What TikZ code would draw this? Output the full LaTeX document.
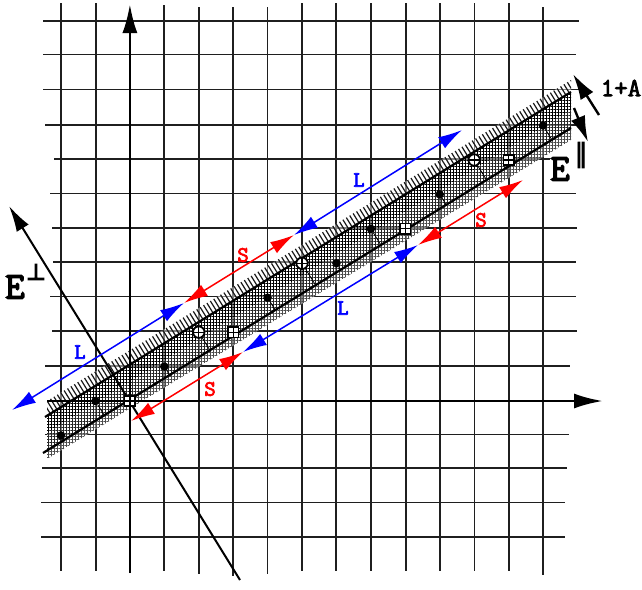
\documentclass[tikz,border=0pt]{standalone}
\usepackage{fontspec}
\newfontfamily\courlab[FakeBold=3.2]{Latin Modern Mono}
\newfontfamily\courbig[FakeBold=3.5]{Latin Modern Mono}
\newfontfamily\dejaheavy[FakeBold=6]{DejaVu Sans}
\newfontfamily\dejapar[FakeBold=3.5]{DejaVu Sans}
\usetikzlibrary{arrows.meta,patterns,patterns.meta,calc}
\tikzset{
  gridline/.style={line width=1.5pt, black!88},
  axisline/.style={line width=2.8pt, -{Latex[length=29pt,width=15pt]}},
  perpaxis/.style={line width=2pt, -{Latex[length=26pt,width=14pt]}},
  bandline/.style={line width=2.2pt},
  combline/.style={line width=1.2pt, black!90},
  projline/.style={line width=0.8pt},
  dotm/.style={circle, fill=black, inner sep=0pt, minimum size=8.5pt},
  crossin/.style={path picture={\draw[line width=1.2pt]
     (path picture bounding box.north) -- (path picture bounding box.south)
     (path picture bounding box.west) -- (path picture bounding box.east);}},
  circm/.style={circle, draw=black, fill=white, crossin, line width=1.8pt, inner sep=0pt, minimum size=11.5pt},
  sqm/.style={rectangle, draw=black, fill=white, crossin, line width=1.6pt, inner sep=0pt, minimum size=10.5pt},
  dimarrow/.style={line width=1.5pt, {Latex[length=24pt,width=13pt]}-{Latex[length=24pt,width=13pt]}},
  widtharrow/.style={line width=2.4pt, -{Latex[length=26pt,width=15pt]}},
  lab/.style={inner sep=0pt, font=\courlab\fontsize{22}{22}\selectfont},
  bigE/.style={inner sep=0pt, font=\courbig\fontsize{38}{38}\selectfont},
  supsym/.style={inner sep=0pt, font=\dejaheavy\fontsize{22}{22}\selectfont},
  supsympar/.style={inner sep=0pt, font=\dejapar\fontsize{26}{26}\selectfont},
  small/.style={inner sep=0pt, font=\courlab\fontsize{26}{26}\selectfont},
}
\begin{document}
\begin{tikzpicture}[x=1pt,y=-1pt]
\useasboundingbox (0,0) rectangle (642,589);
% grid
\foreach \y/\l/\r in {21/43/579, 54.5/43/576, 89.5/43/579, 125/45/578, 159/54/550,
  193.5/50/576, 228/52/577, 262/53/576, 296.5/50/576, 331/52/577, 366/45/570,
  434.5/45/569, 468/42/567, 502.5/41/565, 537/41/565}
  \draw[gridline] (\l,\y) -- (\r,\y);
\foreach \x/\t/\b in {61/3/571, 96/3/571, 164/5/571, 199/7/574, 233/7/576,
  267.5/7/574, 302/3/571, 336/3/571, 371/3/571, 406/3/571, 440/3/571,
  474.5/3/571, 509/3/571, 543/7/575}
  \draw[gridline] (\x,\t) -- (\x,\b);
% band textures
\coordinate (TL) at (47,401);
\coordinate (TR) at (571,80);
\coordinate (UL) at (47,415.8);
\coordinate (UR) at (571,92);
\coordinate (ML) at (47,433);
\coordinate (MR) at (571,110);
\coordinate (LL) at (47,450.5);
\coordinate (LR) at (571,128);
\coordinate (BL) at (47,459);
\coordinate (BR) at (571,140);
\fill[white, fill opacity=0.45] (TL) -- (TR) -- (BR) -- (BL) -- cycle;
\fill[pattern={Hatch[angle=0,distance=3pt,line width=0.85pt]}, pattern color=black]
  (UL) -- (UR) -- (MR) -- (ML) -- cycle;
\fill[pattern={Hatch[angle=0,distance=3pt,line width=0.65pt]}, pattern color=black!85]
  (ML) -- (MR) -- (LR) -- (LL) -- cycle;
\fill[pattern={Hatch[angle=0,distance=3pt,line width=0.5pt]}, pattern color=black!70]
  (LL) -- (LR) -- (BR) -- (BL) -- cycle;
\begin{scope}
  \clip (TL) -- (TR) -- (UR) -- (UL) -- cycle;
  \foreach \i in {-8,...,160}
    \draw[combline] ({41+3.4*\i},{391-2.083*\i}) -- ++(25,40.5);
\end{scope}
% black lines of the strip
\coordinate (U0) at (45,417);
\coordinate (U1) at (571,92);
\coordinate (L0) at (43,453);
\coordinate (L1) at (571,128);
\draw[bandline] (U0) -- (U1);
\draw[bandline] (L0) -- (L1);
% axes
\coordinate (O) at (129.9,401);
\coordinate (xa0) at (47,401);
\coordinate (xa1) at (603,401);
\coordinate (ya0) at (129.9,573);
\coordinate (ya1) at (129.9,4);
\coordinate (pa0) at (240,580);
\coordinate (pa1) at (9,206);
\draw[axisline] (xa0) -- (xa1);
\draw[axisline] (ya0) -- (ya1);
\draw[perpaxis] (pa0) -- (pa1);
% lattice points and projections
\foreach \m/\n/\nm in {-2/-1/a, -1/0/b, 1/1/c, 4/3/d, 6/4/e, 7/5/f, 9/6/g, 12/8/h}{
  \node[dotm] (d\nm) at ({129.9+34.43*\m},{401-34.43*\n}) {};
  \path (d\nm.center) ++({18.10*(-0.5257*\m+0.8507*\n)},{29.29*(-0.5257*\m+0.8507*\n)}) coordinate (fd\nm);
  \draw[projline] (d\nm) -- (fd\nm);
}
\foreach \m/\n/\nm in {2/2/a, 5/4/b, 10/7/c}{
  \path ({129.9+34.43*\m},{401-34.43*\n}) coordinate (cc\nm)
     ++({18.10*(-0.5257*\m+0.8507*\n)},{29.29*(-0.5257*\m+0.8507*\n)}) coordinate (fc\nm);
  \draw[projline] (cc\nm) -- (fc\nm);
  \node[circm] (c\nm) at (cc\nm) {};
}
\foreach \m/\n/\nm in {0/0/a, 3/2/b, 8/5/c, 11/7/d}{
  \node[sqm] (s\nm) at ({129.9+34.43*\m},{401-34.43*\n}) {};
}
% L and S arrows
\coordinate (A0) at (12,410);
\coordinate (A1) at (184,303);
\coordinate (A2) at (294,235);
\coordinate (A3) at (462,130);
\coordinate (B0) at (131,421);
\coordinate (B1) at (243,352);
\coordinate (B2) at (418,245);
\coordinate (B3) at (523,180);
\draw[dimarrow, blue] (A0) -- (A1);
\draw[dimarrow, red] (A1) -- (A2);
\draw[dimarrow, blue] (A2) -- (A3);
\draw[dimarrow, red] (B0) -- (B1);
\draw[dimarrow, blue] (B1) -- (B2);
\draw[dimarrow, red] (B2) -- (B3);
\node[lab, text=blue] (lL1) at (80,352) {L};
\node[lab, text=blue] (lL2) at (359,180) {L};
\node[lab, text=blue] (lL3) at (343,308) {L};
\node[lab, text=red] (lS1) at (243,255) {S};
\node[lab, text=red] (lS2) at (210,389) {S};
\node[lab, text=red] (lS3) at (481,220) {S};
% width arrows
\coordinate (wa0) at (599,115);
\coordinate (wa1) at (573,74);
\coordinate (wb0) at (574,108);
\coordinate (wb1) at (588,142);
\draw[widtharrow] (wa0) -- (wa1);
\draw[widtharrow] (wb0) -- (wb1);
% labels
\node[small] (onea) at (621,88) {1+A};
\node[bigE] (Eperp) at (15,287) {E};
\node[supsym] (perp) at (36,272) {⊥};
\node[bigE] (Epar) at (560,169) {E};
\node[supsympar] (par) at (581,155) {∥};
\end{tikzpicture}
\end{document}
